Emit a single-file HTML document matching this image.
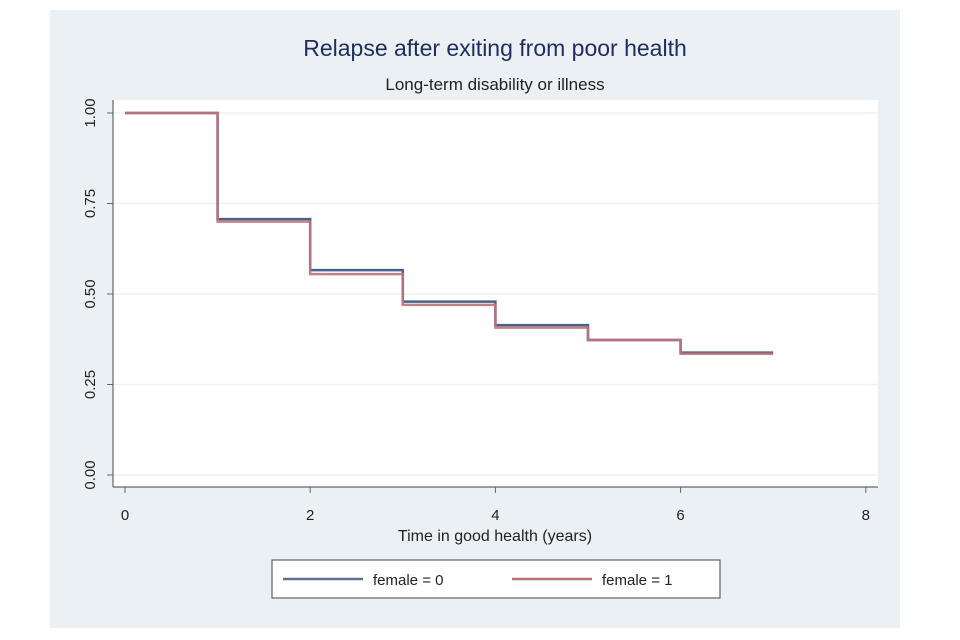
<!DOCTYPE html>
<html><head><meta charset="utf-8"><style>
body{margin:0;background:#fff;}
svg{display:block;font-family:"Liberation Sans",sans-serif;}
</style></head><body>
<svg id="c" width="960" height="640">
<rect x="50" y="10" width="850" height="618" fill="#eaf0f3"/>
<rect x="113" y="100" width="765" height="387" fill="#fff"/>
<text x="495" y="56" text-anchor="middle" font-size="23" fill="#1e2d5e">Relapse after exiting from poor health</text>
<text x="495" y="90" text-anchor="middle" font-size="17" fill="#222">Long-term disability or illness</text>
<text x="495" y="541" text-anchor="middle" font-size="16" fill="#222">Time in good health (years)</text>
<g id="grid"></g><g id="axes"></g><g id="series"></g>
<rect x="272" y="560" width="448" height="38" fill="#fff" stroke="#444"/>
<line x1="283" y1="579" x2="363" y2="579" stroke="#5a7393" stroke-width="2.5"/>
<text x="373" y="585" font-size="15" fill="#222">female = 0</text>
<line x1="512" y1="579" x2="592" y2="579" stroke="#b86e74" stroke-width="2.5"/>
<text x="602" y="585" font-size="15" fill="#222">female = 1</text>
</svg>
<script>
const times=[0,1,2,3,4,5,6,7];
const female0=[1.0,0.707,0.566,0.479,0.414,0.373,0.338,0.338];
const female1=[1.0,0.700,0.555,0.470,0.407,0.373,0.335,0.335];
const xTicks=[0,2,4,6,8];
const yTicks=[0,0.25,0.5,0.75,1];
const yTickLabels=["0.00","0.25","0.50","0.75","1.00"];
const NS="http://www.w3.org/2000/svg";
const X=v=>125+v*92.6, Y=v=>475-v*362;
function mk(tag,at,parent){const e=document.createElementNS(NS,tag);for(const k in at)e.setAttribute(k,at[k]);document.getElementById(parent).appendChild(e);return e;}
const ax=mk('line',{x1:113,y1:100,x2:113,y2:487,stroke:'#666','stroke-width':1.2},'axes');


const bx=mk('line',{x1:113,y1:487,x2:878,y2:487,stroke:'#666','stroke-width':1.2},'axes');


yTicks.forEach((v,i)=>{
  const g=mk('line',{x1:113,x2:878,y1:Y(v),y2:Y(v),stroke:'#edf2f4','stroke-width':1.5},'grid');
  
  
  mk('line',{x1:107,x2:113,y1:Y(v),y2:Y(v),stroke:'#666'},'axes');
  const t=mk('text',{x:0,y:0,transform:`translate(95,${Y(v)}) rotate(-90)`,'text-anchor':'middle','font-size':15,fill:'#222'},'axes');
  t.textContent=yTickLabels[i];
  
  
});
xTicks.forEach(v=>{
  mk('line',{x1:X(v),x2:X(v),y1:487,y2:493,stroke:'#666'},'axes');
  const t=mk('text',{x:X(v),y:520,'text-anchor':'middle','font-size':15,fill:'#222'},'axes');
  t.textContent=v;
  
  
});
function step(vals){let d=`M${X(times[0])},${Y(vals[0])}`;for(let i=1;i<times.length;i++){d+=` H${X(times[i])} V${Y(vals[i])}`;}return d;}
const p0=mk('path',{d:step(female0),fill:'none',stroke:'#46618a','stroke-width':2.5},'series');


const p1=mk('path',{d:step(female1),fill:'none',stroke:'#c0737a','stroke-width':2.5,'stroke-opacity':0.9},'series');


</script>
</body></html>
